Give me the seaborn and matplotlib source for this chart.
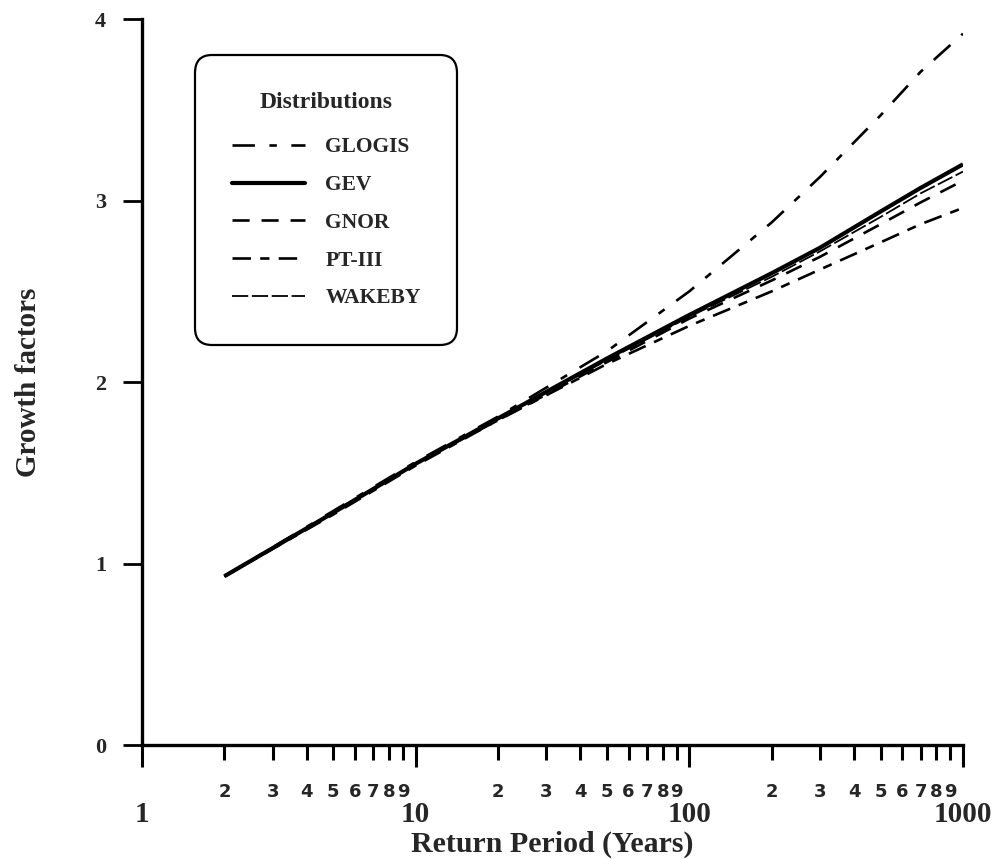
import matplotlib
matplotlib.use("Agg")
import matplotlib.pyplot as plt
import seaborn as sns
import pandas as pd
from matplotlib.lines import Line2D

# ---- data ----
return_period = [2, 5, 10, 20, 50, 100, 200, 300, 500, 700, 1000]
glogis = [0.93, 1.29, 1.56, 1.81, 2.17, 2.50, 2.88, 3.13, 3.47, 3.71, 3.92]
gev    = [0.93, 1.28, 1.55, 1.80, 2.13, 2.37, 2.60, 2.74, 2.94, 3.07, 3.20]
gnor   = [0.93, 1.28, 1.55, 1.79, 2.11, 2.35, 2.56, 2.69, 2.87, 2.99, 3.11]
pt3    = [0.93, 1.27, 1.54, 1.79, 2.10, 2.31, 2.50, 2.62, 2.77, 2.87, 2.96]
wakeby = [0.93, 1.28, 1.55, 1.80, 2.12, 2.36, 2.58, 2.72, 2.91, 3.04, 3.16]

names = ["GLOGIS", "GEV", "GNOR", "PT-III", "WAKEBY"]
series = [glogis, gev, gnor, pt3, wakeby]

major_ticks = [1, 10, 100, 1000]
major_labels = ["1", "10", "100", "1000"]
minor_digits = [2, 3, 4, 5, 6, 7, 8, 9]
y_ticks = [0, 1, 2, 3, 4]

rows = []
for n, s in zip(names, series):
    for t, v in zip(return_period, s):
        rows.append({"T": t, "G": v, "Distribution": n})
df = pd.DataFrame(rows)

sns.set_style("ticks")
plt.rcParams["font.family"] = ["Liberation Serif", "DejaVu Serif"]
plt.rcParams["font.weight"] = "bold"

fig = plt.figure(figsize=(10, 8.59), dpi=100)
ax = fig.add_axes([0.142, 0.1327, 0.821, 0.845])

styles = {
    "GLOGIS": dict(lw=1.9, dashes=(8.5, 5.5, 2.8, 5.5)),
    "GEV":    dict(lw=3.0, dashes=None),
    "GNOR":   dict(lw=1.9, dashes=(6.5, 4.5)),
    "PT-III": dict(lw=1.9, dashes=(7, 3.5, 3.5, 3.5)),
    "WAKEBY": dict(lw=1.3, dashes=(9, 2)),
}

handles = []
for n in names:
    sub = df[df["Distribution"] == n]
    sns.lineplot(data=sub, x="T", y="G", ax=ax, color="black",
                 linewidth=styles[n]["lw"], estimator=None, sort=True,
                 solid_capstyle="butt", dash_capstyle="butt")
    line = ax.lines[-1]
    if styles[n]["dashes"] is not None:
        line.set_dashes(styles[n]["dashes"])
    h = Line2D([], [], color="black", linewidth=styles[n]["lw"], label=n)
    if styles[n]["dashes"] is not None:
        h.set_dashes(styles[n]["dashes"])
    handles.append(h)

ax.set_xscale("log")
ax.set_xlim(1, 1000)
ax.set_ylim(0, 4)

minor_pos = [d * 10 ** k for k in range(3) for d in minor_digits]
minor_lab = [str(d) for k in range(3) for d in minor_digits]
ax.set_xticks(major_ticks, labels=major_labels)
ax.set_xticks(minor_pos, labels=minor_lab, minor=True)
ax.set_yticks(y_ticks, labels=[str(v) for v in y_ticks])

for lab in ax.get_xticklabels(minor=True):
    lab.set_fontfamily("DejaVu Sans")
    lab.set_fontweight("bold")
    lab.set_fontsize(13)
for lab in ax.get_xticklabels():
    lab.set_fontfamily("Liberation Serif")
    lab.set_fontweight("bold")
    lab.set_fontsize(21)
for lab in ax.get_yticklabels():
    lab.set_fontfamily("Liberation Serif")
    lab.set_fontweight("bold")
    lab.set_fontsize(16)

ax.tick_params(axis="x", which="major", direction="out", length=16, width=2.2,
               pad=24, color="black")
ax.tick_params(axis="x", which="minor", direction="out", length=11, width=2.2,
               pad=16, color="black")
ax.tick_params(axis="y", which="major", direction="out", length=14, width=2.0,
               pad=12, color="black")

for side in ["top", "right"]:
    ax.spines[side].set_visible(False)
for side in ["left", "bottom"]:
    ax.spines[side].set_linewidth(2.4)
    ax.spines[side].set_color("black")

ax.set_xlabel("Return Period (Years)", fontsize=21.5, fontweight="bold",
              fontfamily="Liberation Serif", labelpad=2)
ax.set_ylabel("Growth factors", fontsize=21, fontweight="bold",
              fontfamily="Liberation Serif", labelpad=38)

leg = ax.legend(handles=handles, title="Distributions", loc="upper left",
                bbox_to_anchor=(0.0646, 0.950), borderaxespad=0,
                prop={"family": "Liberation Serif", "weight": "bold", "size": 15.5},
                title_fontproperties={"family": "Liberation Serif", "weight": "bold", "size": 17},
                frameon=True, fancybox=True, handlelength=3.4, handletextpad=0.95,
                labelspacing=0.82, borderpad=1.7)
leg._legend_box.sep = 17.5
frame = leg.get_frame()
frame.set_edgecolor("black")
frame.set_linewidth(1.6)
frame.set_facecolor("white")
frame.set_alpha(1)
frame.set_boxstyle("round", pad=0, rounding_size=0.8)

fig.savefig("out.png", dpi=100)
